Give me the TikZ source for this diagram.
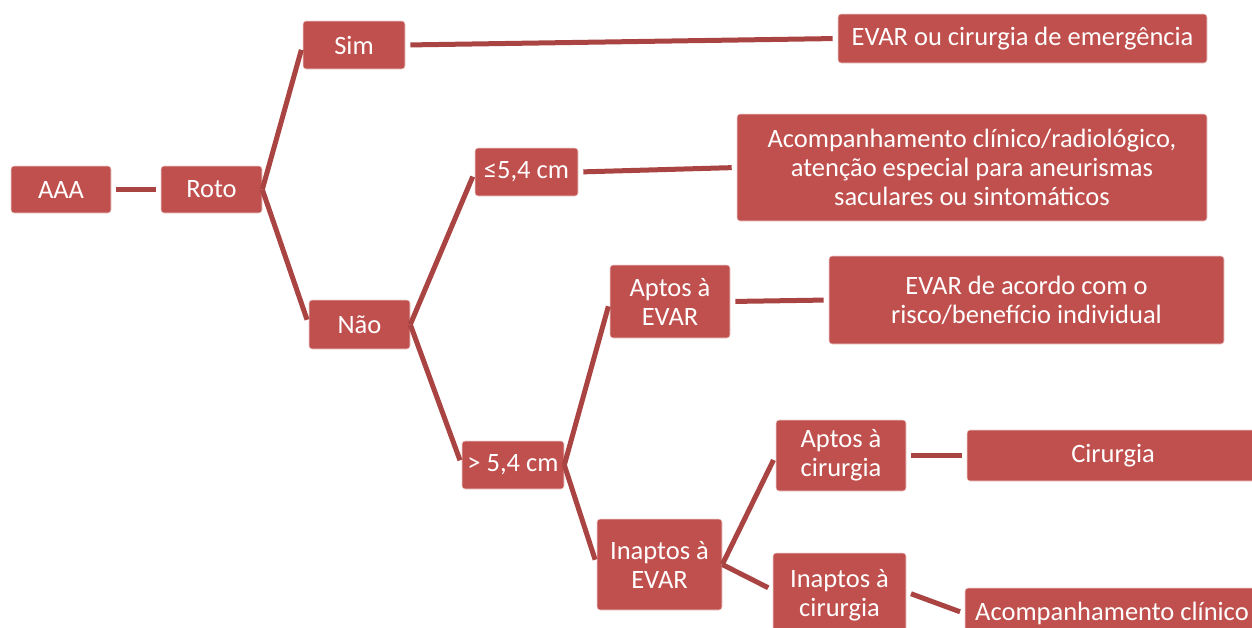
\documentclass[tikz,border=0pt]{standalone}
\usepackage{fontspec}
\setmainfont{Carlito}
\usepackage{tikz}
\usetikzlibrary{calc, positioning}
\definecolor{boxred}{HTML}{C0504D}
\definecolor{linkred}{HTML}{A94442}
\tikzstyle{box}=[shape=rectangle, rounded corners=3pt, fill=boxred, draw=white!75!boxred, line width=0.6pt, inner sep=0pt, text=white, align=center, font=\fontsize{26.5}{29}\selectfont]
\tikzstyle{conn}=[draw=linkred, line width=5pt, shorten >=5pt]
\tikzstyle{link}=[conn, shorten <=5pt]

\begin{document}
\begin{tikzpicture}[x=1pt,y=-1pt]
\useasboundingbox (0,0) rectangle (1252,627);
\clip (0,0) rectangle (1252,627);
\fill[white] (0,0) rectangle (1252,627);
%first levels
\node[box, minimum width=100pt, minimum height=47pt] (aaa) at (61,189.5) {AAA};
\node[box, minimum width=101pt, minimum height=47pt] (roto) at (211.5,189.5) {Roto};
\node[box, minimum width=102pt, minimum height=48pt] (sim) at (354,45) {Sim};
\node[box, minimum width=101pt, minimum height=49pt] (nao) at (359.5,324.5) {Não};
\node[box, minimum width=103pt, minimum height=48pt] (menor) at (526.5,172) {≤5,4 cm};
\node[box, minimum width=102pt, minimum height=48pt] (maior) at (513,465) {> 5,4 cm};
\node[box, minimum width=120pt, minimum height=73pt] (aptevar) at (670,301.5) {Aptos à\\EVAR};
\node[box, minimum width=125pt, minimum height=91pt] (inaptevar) at (659.5,564.5) {Inaptos à\\EVAR};
\node[box, minimum width=130pt, minimum height=71pt] (aptcir) at (841,455.5) {Aptos à\\cirurgia};
\node[box, minimum width=133pt, minimum height=84pt] (inaptcir) at (839.5,595) {Inaptos à\\cirurgia};
%outcomes
\node[box, minimum width=369pt, minimum height=49pt] (emerg) at (1022.5,38.5) {EVAR ou cirurgia de emergência};
\node[box, minimum width=470pt, minimum height=107pt] (acomp) at (972,167.5) {Acompanhamento clínico/radiológico,\\atenção especial para aneurismas\\saculares ou sintomáticos};
\node[box, minimum width=395pt, minimum height=88pt] (acordo) at (1026.5,300) {EVAR de acordo com o\\risco/benefício individual};
\node[box, minimum width=292pt, minimum height=51pt] (cir) at (1113,455.5) {Cirurgia};
\node[box, minimum width=294pt, minimum height=51pt] (acompcl) at (1112,613.5) {Acompanhamento clínico};
%links
\draw[link] (aaa.east) -- (roto.west);
\draw[conn] (roto.east) -- (sim.west);
\draw[conn] (roto.east) -- (nao.west);
\draw[link] (sim.east) -- (emerg.west);
\draw[conn] (nao.east) -- (menor.west);
\draw[conn] (nao.east) -- (maior.west);
\draw[link] (menor.east) -- (acomp.west);
\draw[conn] (maior.east) -- (aptevar.west);
\draw[conn] (maior.east) -- (inaptevar.west);
\draw[link] (aptevar.east) -- (acordo.west);
\draw[conn] (inaptevar.east) -- (aptcir.west);
\draw[conn] (inaptevar.east) -- ($(inaptcir.west)+(0,-5)$);
\draw[link] (aptcir.east) -- (cir.west);
\draw[link] ($(inaptcir.east)+(0,-3)$) -- (acompcl.west);
\end{tikzpicture}
\end{document}
